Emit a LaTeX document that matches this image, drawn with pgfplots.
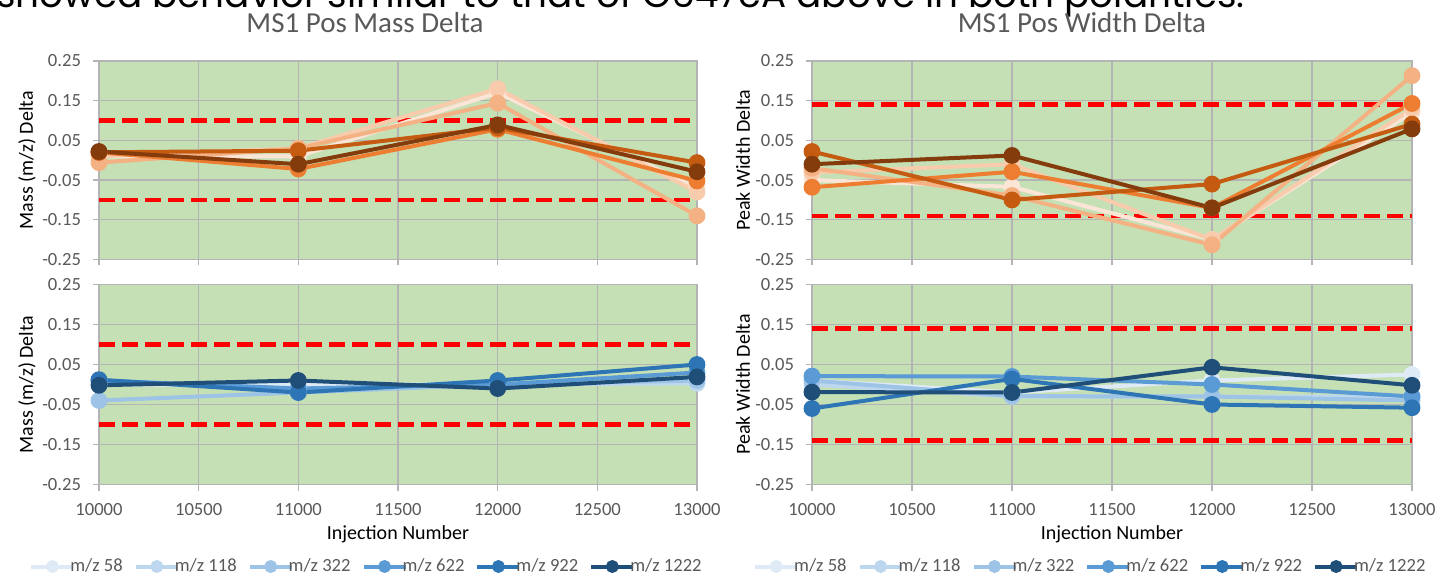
\documentclass[border=0pt]{standalone}
\usepackage{fontspec}
\setmainfont{Carlito}
\newfontfamily\topfont{Poppins}
\usepackage{graphicx}
\usepackage{pgfplots}
\pgfplotsset{compat=1.18}
\definecolor{bg}{HTML}{C5E0B4}
\definecolor{gridc}{HTML}{B4B4B4}
\definecolor{txt}{HTML}{595959}
\definecolor{oA}{HTML}{FBE5D6}
\definecolor{oB}{HTML}{F8CBAD}
\definecolor{oC}{HTML}{F4B183}
\definecolor{oD}{HTML}{ED7D31}
\definecolor{oE}{HTML}{C55A11}
\definecolor{oF}{HTML}{843C0C}
\definecolor{bA}{HTML}{DEEBF7}
\definecolor{bB}{HTML}{BDD7EE}
\definecolor{bC}{HTML}{9DC3E6}
\definecolor{bD}{HTML}{5B9BD5}
\definecolor{bE}{HTML}{2E75B6}
\definecolor{bF}{HTML}{1F4E79}
\pgfplotsset{
  base/.style={
    scale only axis,
    xmin=10000, xmax=13000, ymin=-0.25, ymax=0.25,
    xtick={10000,10500,11000,11500,12000,12500,13000},
    ytick={-0.25,-0.15,-0.05,0.05,0.15,0.25},
    xtick pos=bottom, ytick pos=left,
    grid=major, major grid style={gridc, line width=0.6pt},
    axis line style={gridc, line width=0.6pt},
    tick style={gridc, line width=0.6pt},
    tick align=outside, major tick length=3pt,
    axis background/.style={fill=bg},
    scaled x ticks=false, scaled y ticks=false,
    /pgf/number format/assume math mode=true,
    xticklabel style={/pgf/number format/set thousands separator={}, font=\fontsize{9.3}{10}\selectfont, text=txt, yshift=-3pt},
    yticklabel style={/pgf/number format/.cd, fixed, fixed zerofill, precision=2, /tikz/.cd, font=\fontsize{9.3}{10}\selectfont, text=txt, xshift=-2.5pt},
    ylabel style={font=\fontsize{8.9}{10}\selectfont, text=txt},
    xlabel style={font=\fontsize{10.3}{12}\selectfont, text=txt},
    every axis x label/.style={at={(axis description cs:0.5,-0.25)}, anchor=center},
    legend columns=6,
    legend image code/.code={\draw[#1, mark size=2.2pt, mark repeat=2, mark phase=2] plot coordinates {(0pt,0pt) (10.5pt,0pt) (21pt,0pt)};},
    legend style={draw=none, fill=none, font=\fontsize{9.3}{10}\selectfont, text=txt, anchor=center,
      inner sep=0pt, outer sep=0pt,
      nodes={inner xsep=0.5pt, inner ysep=1pt},
      /tikz/every odd column/.append style={column sep=-3pt},
      /tikz/every even column/.append style={column sep=5pt}},
  },
  lim/.style={color=red, line width=2.3pt, dash pattern=on 8pt off 3.5pt, forget plot},
  ser/.style={color=#1, line width=2pt, mark=*, mark size=3.2pt, mark options={solid, fill=#1}},
}
\begin{document}
\begin{tikzpicture}
\useasboundingbox (0,0) rectangle (720pt,287pt);
\clip (0,0) rectangle (720pt,287pt);
\node[anchor=base west, inner sep=0pt] at (-2pt,283pt) {\resizebox{624pt}{!}{\topfont showed behavior similar to that of G647cA above in both polarities.}};
\node[anchor=base, inner sep=0pt, text=txt, font=\fontsize{14.5}{16}\selectfont] at (182.5pt,270.5pt) {MS1 Pos Mass Delta};
\node[anchor=base, inner sep=0pt, text=txt, font=\fontsize{14.5}{16}\selectfont] at (541pt,270.5pt) {MS1 Pos Width Delta};

% top left
\begin{axis}[base, at={(49.5pt,157.25pt)}, anchor=south west, width=299pt, height=99.25pt,
  xticklabels={}, ylabel={Mass (m/z) Delta},
  every axis y label/.style={at={(axis description cs:-0.1204,0.5)}, rotate=90, anchor=center}]
\addplot[lim] coordinates {(10000,0.1) (13000,0.1)};
\addplot[lim] coordinates {(10000,-0.1) (13000,-0.1)};
\addplot[ser=oA] coordinates {(10000,0.01) (11000,0.01) (12000,0.17) (13000,-0.07)};
\addplot[ser=oB] coordinates {(10000,0.01) (11000,0.03) (12000,0.18) (13000,-0.08)};
\addplot[ser=oC] coordinates {(10000,-0.006) (11000,0.03) (12000,0.144) (13000,-0.14)};
\addplot[ser=oD] coordinates {(10000,0.02) (11000,-0.022) (12000,0.078) (13000,-0.052)};
\addplot[ser=oE] coordinates {(10000,0.02) (11000,0.024) (12000,0.082) (13000,-0.006)};
\addplot[ser=oF] coordinates {(10000,0.022) (11000,-0.01) (12000,0.089) (13000,-0.029)};
\end{axis}

% bottom left
\begin{axis}[base, at={(49.5pt,44.75pt)}, anchor=south west, width=299pt, height=100pt,
  ylabel={Mass (m/z) Delta}, xlabel={Injection Number},
  every axis y label/.style={at={(axis description cs:-0.1204,0.5)}, rotate=90, anchor=center},
  legend style={at={(axis description cs:0.4465,-0.41)}}]
\addplot[lim] coordinates {(10000,0.1) (13000,0.1)};
\addplot[lim] coordinates {(10000,-0.1) (13000,-0.1)};
\addplot[ser=bA] coordinates {(10000,0.0) (11000,0.0) (12000,0.0) (13000,0.01)};
\addplot[ser=bB] coordinates {(10000,0.01) (11000,-0.01) (12000,0.0) (13000,0.003)};
\addplot[ser=bC] coordinates {(10000,-0.04) (11000,-0.02) (12000,0.0) (13000,0.01)};
\addplot[ser=bD] coordinates {(10000,0.01) (11000,-0.01) (12000,0.0) (13000,0.03)};
\addplot[ser=bE] coordinates {(10000,0.012) (11000,-0.02) (12000,0.01) (13000,0.05)};
\addplot[ser=bF] coordinates {(10000,-0.002) (11000,0.01) (12000,-0.01) (13000,0.019)};
\legend{m/z 58, m/z 118, m/z 322, m/z 622, m/z 922, m/z 1222}
\end{axis}

% top right
\begin{axis}[base, at={(406pt,157.25pt)}, anchor=south west, width=300pt, height=99.25pt,
  xticklabels={}, ylabel={Peak Width Delta},
  every axis y label/.style={at={(axis description cs:-0.115,0.5)}, rotate=90, anchor=center}]
\addplot[lim] coordinates {(10000,0.14) (13000,0.14)};
\addplot[lim] coordinates {(10000,-0.14) (13000,-0.14)};
\addplot[ser=oA] coordinates {(10000,-0.05) (11000,-0.067) (12000,-0.20) (13000,0.12)};
\addplot[ser=oB] coordinates {(10000,-0.031) (11000,-0.01) (12000,-0.20) (13000,0.13)};
\addplot[ser=oC] coordinates {(10000,-0.02) (11000,-0.089) (12000,-0.213) (13000,0.213)};
\addplot[ser=oD] coordinates {(10000,-0.068) (11000,-0.029) (12000,-0.12) (13000,0.143)};
\addplot[ser=oE] coordinates {(10000,0.022) (11000,-0.10) (12000,-0.06) (13000,0.091)};
\addplot[ser=oF] coordinates {(10000,-0.01) (11000,0.012) (12000,-0.12) (13000,0.079)};
\end{axis}

% bottom right
\begin{axis}[base, at={(406pt,44.75pt)}, anchor=south west, width=300pt, height=100pt,
  ylabel={Peak Width Delta}, xlabel={Injection Number},
  every axis y label/.style={at={(axis description cs:-0.115,0.5)}, rotate=90, anchor=center},
  legend style={at={(axis description cs:0.463,-0.41)}}]
\addplot[lim] coordinates {(10000,0.14) (13000,0.14)};
\addplot[lim] coordinates {(10000,-0.14) (13000,-0.14)};
\addplot[ser=bA] coordinates {(10000,0.01) (11000,-0.02) (12000,0.01) (13000,0.025)};
\addplot[ser=bB] coordinates {(10000,0.0) (11000,-0.03) (12000,-0.03) (13000,-0.03)};
\addplot[ser=bC] coordinates {(10000,0.01) (11000,-0.029) (12000,-0.03) (13000,-0.04)};
\addplot[ser=bD] coordinates {(10000,0.021) (11000,0.02) (12000,0.0) (13000,-0.03)};
\addplot[ser=bE] coordinates {(10000,-0.06) (11000,0.014) (12000,-0.05) (13000,-0.058)};
\addplot[ser=bF] coordinates {(10000,-0.019) (11000,-0.02) (12000,0.043) (13000,-0.002)};
\legend{m/z 58, m/z 118, m/z 322, m/z 622, m/z 922, m/z 1222}
\end{axis}
\end{tikzpicture}
\end{document}
